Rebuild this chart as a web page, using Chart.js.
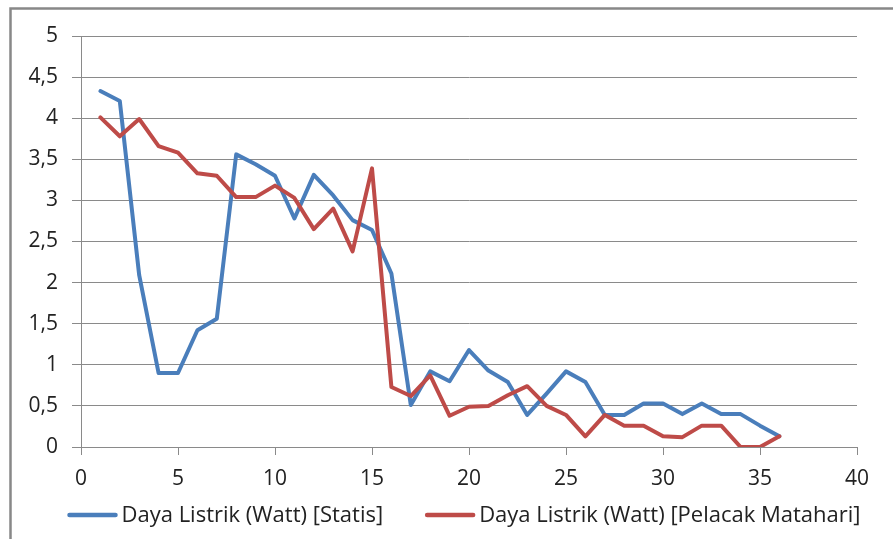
<!DOCTYPE html>
<html>
<head>
<meta charset="utf-8">
<script src="https://cdn.jsdelivr.net/npm/chart.js@4.4.1/dist/chart.umd.min.js"></script>
<style>
  html, body { margin: 0; padding: 0; background: #fff; }
  #wrap { width: 893px; height: 539px; position: relative; }
</style>
</head>
<body>
<div id="wrap"><canvas id="chart" width="893" height="539"></canvas></div>
<script>
// data
const X_VALUES = [1, 2, 3, 4, 5, 6, 7, 8, 9, 10, 11, 12, 13, 14, 15, 16, 17, 18,
  19, 20, 21, 22, 23, 24, 25, 26, 27, 28, 29, 30, 31, 32, 33, 34, 35, 36];
const STATIS = [4.33, 4.21, 2.09, 0.90, 0.90, 1.42, 1.56, 3.56, 3.44, 3.30, 2.78, 3.31,
  3.06, 2.76, 2.64, 2.11, 0.51, 0.92, 0.80, 1.18, 0.93, 0.79, 0.39, 0.65,
  0.92, 0.79, 0.39, 0.39, 0.53, 0.53, 0.40, 0.53, 0.40, 0.40, 0.26, 0.13];
const PELACAK = [4.01, 3.78, 3.99, 3.66, 3.58, 3.33, 3.30, 3.04, 3.04, 3.18, 3.03, 2.65,
  2.90, 2.38, 3.39, 0.73, 0.62, 0.87, 0.38, 0.49, 0.50, 0.63, 0.74, 0.50,
  0.39, 0.13, 0.39, 0.26, 0.26, 0.13, 0.12, 0.26, 0.26, 0.00, 0.00, 0.13];
const SERIES_NAMES = ["Daya Listrik (Watt) [Statis]", "Daya Listrik (Watt) [Pelacak Matahari]"];
const X_TICKS = [0, 5, 10, 15, 20, 25, 30, 35, 40];
const Y_TICKS = [0, 0.5, 1, 1.5, 2, 2.5, 3, 3.5, 4, 4.5, 5];

const BLUE = "#4a7ebb";
const RED = "#be4b48";
const GRID = "#8a8a8a";
const TEXT = "#222";
const FONT = "'Open Sans', 'Liberation Sans', sans-serif";
const TICK_SIZE = 21;
const LEGEND_SIZE = 22;

// comma decimal like the original
const fmt = v => String(v).replace(".", ",");

// outer chart frame (only top and left edge are visible)
const framePlugin = {
  id: "frame",
  beforeDraw(chart) {
    const ctx = chart.ctx;
    ctx.save();
    ctx.strokeStyle = "#888";
    ctx.lineWidth = 2.5;
    ctx.beginPath();
    ctx.moveTo(10.5, chart.height + 2);
    ctx.lineTo(10.5, 8.5);
    ctx.lineTo(chart.width + 2, 8.5);
    ctx.stroke();
    ctx.restore();
  }
};

// legend drawn under the axis, line sample + text
const lineLegend = {
  id: "lineLegend",
  afterDraw(chart) {
    const ctx = chart.ctx;
    const area = chart.chartArea;
    const sampleW = 50, gapText = 4, gapItem = 42;
    ctx.save();
    ctx.font = `${LEGEND_SIZE}px ${FONT}`;
    const items = chart.data.datasets.map(ds => ({
      label: ds.label, color: ds.borderColor,
      w: sampleW + gapText + ctx.measureText(ds.label).width
    }));
    const total = items.reduce((s, it) => s + it.w, 0) + gapItem * (items.length - 1);
    let x = (area.left + area.right) / 2 - 5 - total / 2;
    const y = 515;
    items.forEach(it => {
      ctx.strokeStyle = it.color;
      ctx.lineWidth = 4.5;
      ctx.lineCap = "round";
      ctx.beginPath();
      ctx.moveTo(x + 2, y);
      ctx.lineTo(x + sampleW - 2, y);
      ctx.stroke();
      ctx.fillStyle = TEXT;
      ctx.textBaseline = "middle";
      ctx.textAlign = "left";
      ctx.fillText(it.label, x + sampleW + gapText, y + 1);
      x += it.w + gapItem;
    });
    ctx.restore();
  }
};

const toPoints = ys => X_VALUES.map((x, i) => ({ x, y: ys[i] }));

new Chart(document.getElementById("chart"), {
  type: "line",
  data: {
    datasets: [
      {
        label: SERIES_NAMES[0],
        data: toPoints(STATIS),
        borderColor: BLUE,
        backgroundColor: BLUE,
        order: 1
      },
      {
        label: SERIES_NAMES[1],
        data: toPoints(PELACAK),
        borderColor: RED,
        backgroundColor: RED,
        order: 0
      }
    ]
  },
  options: {
    responsive: false,
    animation: false,
    layout: { padding: { left: 0, right: 36, top: 36, bottom: 47 } },
    elements: {
      line: { borderWidth: 4, tension: 0, borderJoinStyle: "round", borderCapStyle: "round" },
      point: { radius: 0, hoverRadius: 0 }
    },
    plugins: { legend: { display: false }, tooltip: { enabled: false } },
    scales: {
      x: {
        type: "linear",
        min: 0,
        max: 40,
        afterBuildTicks: s => { s.ticks = X_TICKS.map(v => ({ value: v })); },
        afterFit: s => { s.height = 45; },
        grid: { drawOnChartArea: false, drawTicks: true, tickLength: 8, color: GRID, lineWidth: 1 },
        border: { color: GRID, width: 1 },
        ticks: { color: TEXT, font: { family: FONT, size: TICK_SIZE }, padding: 11, maxRotation: 0 }
      },
      y: {
        min: 0,
        max: 5,
        afterBuildTicks: s => { s.ticks = Y_TICKS.map(v => ({ value: v })); },
        afterFit: s => { s.width = 81; },
        grid: { color: GRID, lineWidth: 1, tickLength: 9, drawTicks: true },
        border: { color: GRID, width: 1 },
        ticks: { color: TEXT, font: { family: FONT, size: TICK_SIZE }, padding: 14, callback: v => fmt(v) }
      }
    }
  },
  plugins: [framePlugin, lineLegend]
});
</script>
</body>
</html>
